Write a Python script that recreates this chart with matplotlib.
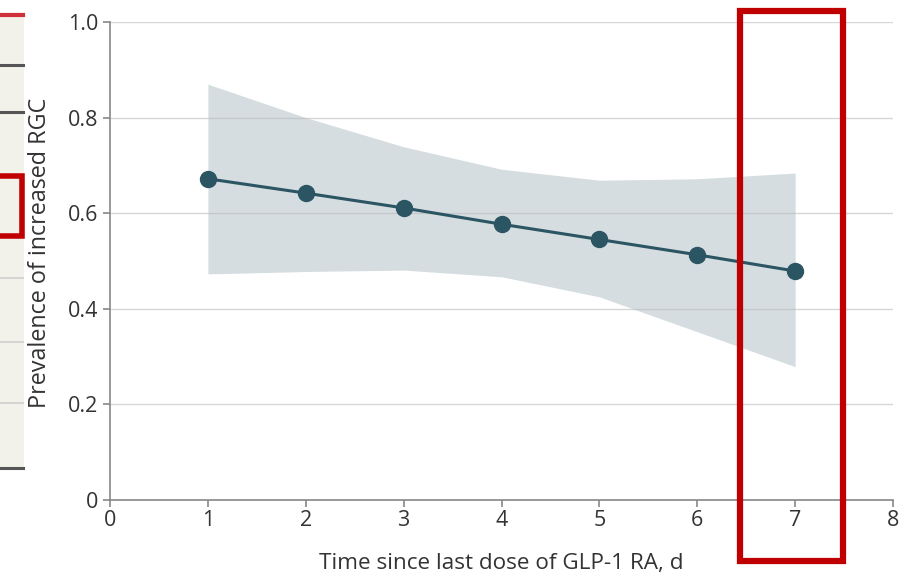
import matplotlib
matplotlib.use("Agg")
import matplotlib.pyplot as plt
from matplotlib.patches import Rectangle
from matplotlib.lines import Line2D

# Data
days = [1, 2, 3, 4, 5, 6, 7]
prevalence = [0.672, 0.642, 0.611, 0.577, 0.545, 0.513, 0.479]
ci_upper = [0.870, 0.800, 0.739, 0.692, 0.669, 0.672, 0.684]
ci_lower = [0.473, 0.478, 0.481, 0.467, 0.425, 0.352, 0.279]
x_ticks = [0, 1, 2, 3, 4, 5, 6, 7, 8]
y_ticks = [0, 0.2, 0.4, 0.6, 0.8, 1.0]
y_tick_labels = ["0", "0.2", "0.4", "0.6", "0.8", "1.0"]

W, H = 902, 574
plt.rcParams['font.family'] = ['Open Sans', 'DejaVu Sans']
fig = plt.figure(figsize=(W / 100, H / 100), dpi=100)
fig.patch.set_facecolor("white")

def fx(px):
    return px / W

def fy(py):
    return 1 - py / H

ax = fig.add_axes([fx(110), fy(500), fx(893) - fx(110), fy(22) - fy(500)])
ax.set_xlim(0, 8)
ax.set_ylim(0, 1)

line_col = "#2c5563"
band_col = "#d5dde1"
text_col = "#333333"
axis_col = "#888888"

ax.fill_between(days, ci_lower, ci_upper, color=band_col, linewidth=0, zorder=1)
for yv in y_ticks:
    ax.axhline(yv, color="#bbbbbb", linewidth=1.0, alpha=0.6, zorder=2)
ax.plot(days, prevalence, color=line_col, linewidth=2.2, marker="o",
        markersize=11.5, markerfacecolor=line_col, markeredgecolor=line_col, zorder=3)

ax.set_xticks(x_ticks)
ax.set_yticks(y_ticks)
ax.set_yticklabels(y_tick_labels)
for s in ["top", "right"]:
    ax.spines[s].set_visible(False)
for s in ["left", "bottom"]:
    ax.spines[s].set_color(axis_col)
    ax.spines[s].set_linewidth(1.2)
ax.tick_params(axis="both", colors=axis_col, length=5, width=1.2, labelsize=15.5,
               labelcolor=text_col)
ax.tick_params(axis="x", pad=2)
ax.tick_params(axis="y", pad=3.5)
ax.set_xlabel("Time since last dose of GLP-1 RA, d", fontsize=16.2, color=text_col, labelpad=16)
ax.set_ylabel("Prevalence of increased RGC", fontsize=16.8, color=text_col)
ax.yaxis.set_label_coords(-0.0735, 0.517)

# Screenshot overlay elements
red = "#c00000"
# sidebar
fig.add_artist(Rectangle((fx(0), fy(470)), fx(24), fy(17) - fy(470),
                         facecolor="#f3f2ea", edgecolor="none", transform=fig.transFigure))
fig.add_artist(Line2D([fx(0), fx(23)], [fy(15), fy(15)], color="#d0303a", linewidth=3,
                      transform=fig.transFigure))
for py in [65, 112, 468]:
    fig.add_artist(Line2D([fx(0), fx(23)], [fy(py), fy(py)], color="#555555", linewidth=2.2,
                          transform=fig.transFigure))
for py in [278, 342, 403]:
    fig.add_artist(Line2D([fx(0), fx(23)], [fy(py), fy(py)], color="#cfcfcf", linewidth=1.2,
                          transform=fig.transFigure))
fig.add_artist(Rectangle((fx(-10), fy(236)), fx(32), fy(176) - fy(236),
                         facecolor="none", edgecolor=red, linewidth=4,
                         transform=fig.transFigure))
# highlight box
fig.add_artist(Rectangle((fx(740), fy(561)), fx(843) - fx(740), fy(11) - fy(561),
                         facecolor="none", edgecolor=red, linewidth=4.5,
                         transform=fig.transFigure))

fig.savefig("out.png", dpi=100)
